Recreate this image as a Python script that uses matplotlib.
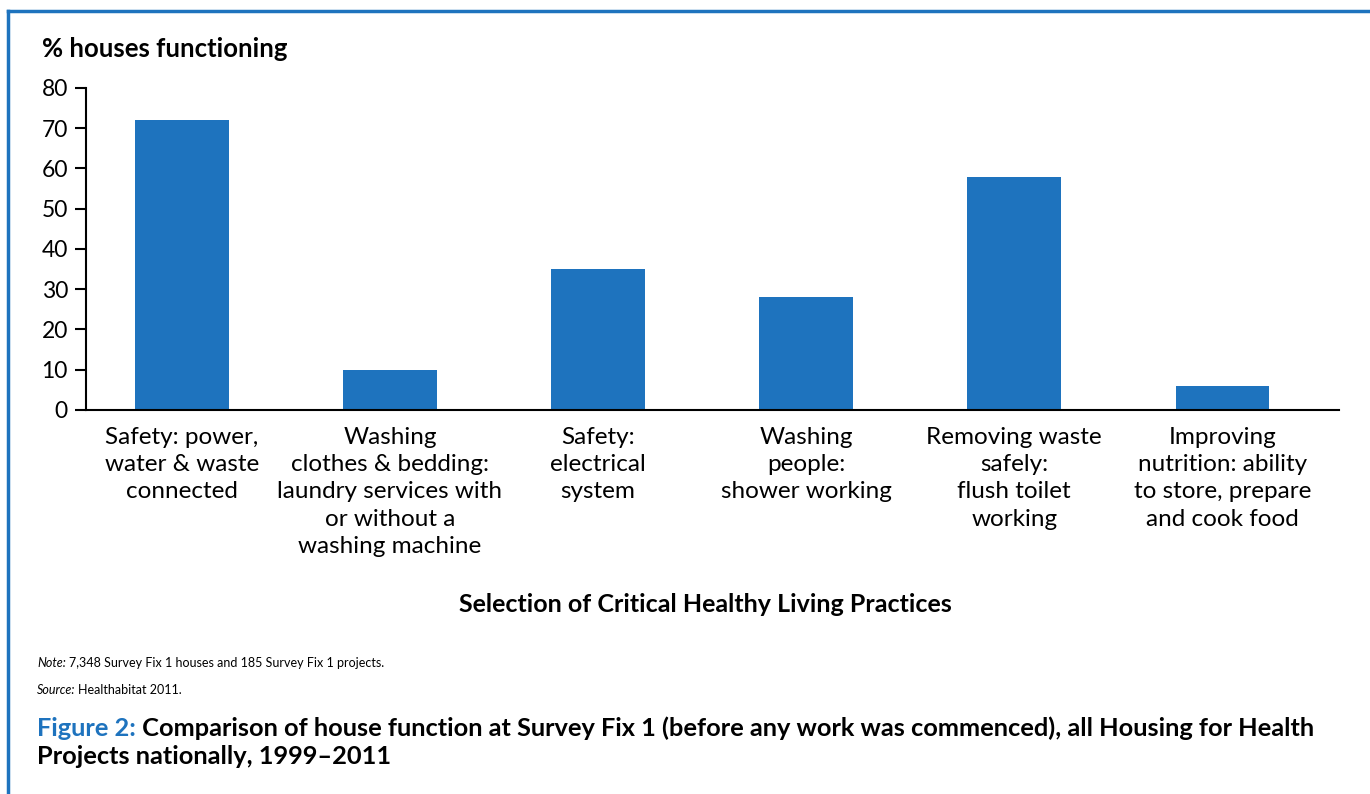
import matplotlib.pyplot as plt
from matplotlib.lines import Line2D

plt.rcParams['font.family'] = ['Lato', 'DejaVu Sans']

# data
categories = ['Safety: power,\nwater & waste\nconnected',
              'Washing\nclothes & bedding:\nlaundry services with\nor without a\nwashing machine',
              'Safety:\nelectrical\nsystem',
              'Washing\npeople:\nshower working',
              'Removing waste\nsafely:\nflush toilet\nworking',
              'Improving\nnutrition: ability\nto store, prepare\nand cook food']
pct_functioning = [72, 10, 35, 28, 58, 6]
y_ticks = [0, 10, 20, 30, 40, 50, 60, 70, 80]

blue = '#1e73be'
W, H = 1370, 794

fig = plt.figure(figsize=(13.7, 7.94), dpi=100)
ax = fig.add_axes([86 / W, 1 - 410 / H, (1339 - 86) / W, (410 - 88) / H])

x = range(len(categories))
ax.bar(x, pct_functioning, width=0.45, color=blue)
ax.set_xlim(-0.46, 5.56)
ax.set_ylim(0, 80)
ax.set_yticks(y_ticks)
ax.set_xticks(list(x))
ax.set_xticklabels(categories, fontsize=17.5, linespacing=1.37)
ax.tick_params(axis='x', length=0, pad=12)
ax.tick_params(axis='y', length=8, width=1.5, labelsize=16.5, pad=5)
for s in ['top', 'right']:
    ax.spines[s].set_visible(False)
ax.spines['left'].set_linewidth(1.5)
ax.spines['bottom'].set_linewidth(1.5)

# labels
fig.text(42 / W, 1 - 57 / H, '% houses functioning', fontsize=18.5,
         fontweight='bold', va='baseline')
fig.text(705 / W, 1 - 604 / H, 'Selection of Critical Healthy Living Practices',
         fontsize=18, fontweight='bold', ha='center', va='center')

# notes
t = fig.text(37 / W, 1 - 667 / H, 'Note:', fontsize=9, style='italic', va='baseline')
ax.annotate('7,348 Survey Fix 1 houses and 185 Survey Fix 1 projects.', xy=(1, 0),
            xycoords=t, xytext=(2, 0), textcoords='offset points', fontsize=9, va='bottom')
t2 = fig.text(37 / W, 1 - 694 / H, 'Source:', fontsize=9, style='italic', va='baseline')
ax.annotate('Healthabitat 2011.', xy=(1, 0), xycoords=t2, xytext=(2, 0),
            textcoords='offset points', fontsize=9, va='bottom')

# caption
c = fig.text(37 / W, 1 - 736 / H, 'Figure 2:', fontsize=18.3, fontweight='bold',
             color=blue, va='baseline')
ax.annotate(' Comparison of house function at Survey Fix 1 (before any work was commenced), all Housing for Health',
            xy=(1, 0), xycoords=c, fontsize=18.3, fontweight='bold', va='bottom')
fig.text(37 / W, 1 - 764 / H, 'Projects nationally, 1999\u20132011', fontsize=18.3,
         fontweight='bold', va='baseline')

# blue frame on top and left
fig.add_artist(Line2D([8 / W, 1], [1 - 11 / H, 1 - 11 / H], color=blue, lw=2.5,
                      transform=fig.transFigure))
fig.add_artist(Line2D([8 / W, 8 / W], [0, 1 - 11 / H], color=blue, lw=2.5,
                      transform=fig.transFigure))

fig.savefig('out.png', dpi=100)
